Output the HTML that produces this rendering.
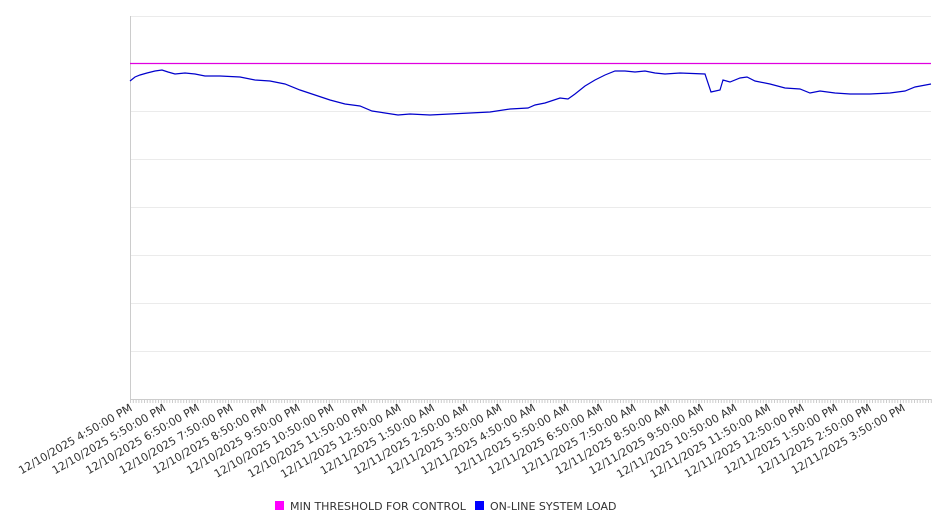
<!DOCTYPE html>
<html><head><meta charset="utf-8"><style>
body{margin:0;background:#fff;}
svg{display:block;font-family:"DejaVu Sans","Liberation Sans",sans-serif;}
</style></head><body>
<svg width="946" height="526" viewBox="0 0 946 526">
<g stroke="#ebebeb" stroke-width="1">
<line x1="130" y1="16.5" x2="931" y2="16.5"/>
<line x1="130" y1="111.5" x2="931" y2="111.5"/>
<line x1="130" y1="159.5" x2="931" y2="159.5"/>
<line x1="130" y1="207.5" x2="931" y2="207.5"/>
<line x1="130" y1="255.5" x2="931" y2="255.5"/>
<line x1="130" y1="303.5" x2="931" y2="303.5"/>
<line x1="130" y1="351.5" x2="931" y2="351.5"/>
</g>
<line x1="130.5" y1="16" x2="130.5" y2="400" stroke="#ccc"/>
<line x1="130" y1="399.5" x2="931" y2="399.5" stroke="#ccc"/>
<g id="ticks" stroke="#ccc"></g>
<line x1="130" y1="63.5" x2="931" y2="63.5" stroke="#e000e0" stroke-width="1.2"/>
<polyline fill="none" stroke="#0000cc" stroke-width="1.2" points="130,81 135,77 140,75 147,73 155,71 162,70 168,72 175,74 185,73 195,74 205,76 220,76 240,77 255,80 270,81 285,84 300,90 315,95 330,100 345,104 360,106 372,111 385,113 398,115 410,114 430,115 450,114 470,113 490,112 510,109 528,108 535,105 545,103 560,98 568,99 575,94 585,86 595,80 605,75 615,71 625,71 635,72 645,71 655,73 665,74 680,73 705,74 711,92 720,90 723,80 730,82 740,78 747,77 755,81 770,84 785,88 800,89 810,93 820,91 835,93 850,94 870,94 890,93 905,91 915,87 931,84"/>
<g id="labels" font-size="11" fill="#333" text-anchor="end"></g>
<g font-size="11" fill="#333">
<rect x="275" y="501" width="9" height="9" fill="#ff00ff"/>
<text x="290" y="510">MIN THRESHOLD FOR CONTROL</text>
<rect x="475" y="501" width="9" height="9" fill="#0000ff"/>
<text x="490" y="510">ON-LINE SYSTEM LOAD</text>
</g>
</svg>
<script>
var t=document.getElementById('ticks'),s='';
for(var x=130;x<=931;x+=2.8){s+='<line x1="'+(x+0.5).toFixed(1)+'" y1="399" x2="'+(x+0.5).toFixed(1)+'" y2="403"/>';}
t.innerHTML=s;
var L=[],d10=['4:50:00 PM','5:50:00 PM','6:50:00 PM','7:50:00 PM','8:50:00 PM','9:50:00 PM','10:50:00 PM','11:50:00 PM'];
d10.forEach(function(h){L.push('12/10/2025 '+h);});
['12:50:00 AM','1:50:00 AM','2:50:00 AM','3:50:00 AM','4:50:00 AM','5:50:00 AM','6:50:00 AM','7:50:00 AM','8:50:00 AM','9:50:00 AM','10:50:00 AM','11:50:00 AM','12:50:00 PM','1:50:00 PM','2:50:00 PM','3:50:00 PM'].forEach(function(h){L.push('12/11/2025 '+h);});
var g=document.getElementById('labels'),h='';
L.forEach(function(l,i){var x=133+i*33.6;h+='<text transform="translate('+x.toFixed(1)+',410) rotate(-30)">'+l+'</text>';});
g.innerHTML=h;
</script>
</body></html>
